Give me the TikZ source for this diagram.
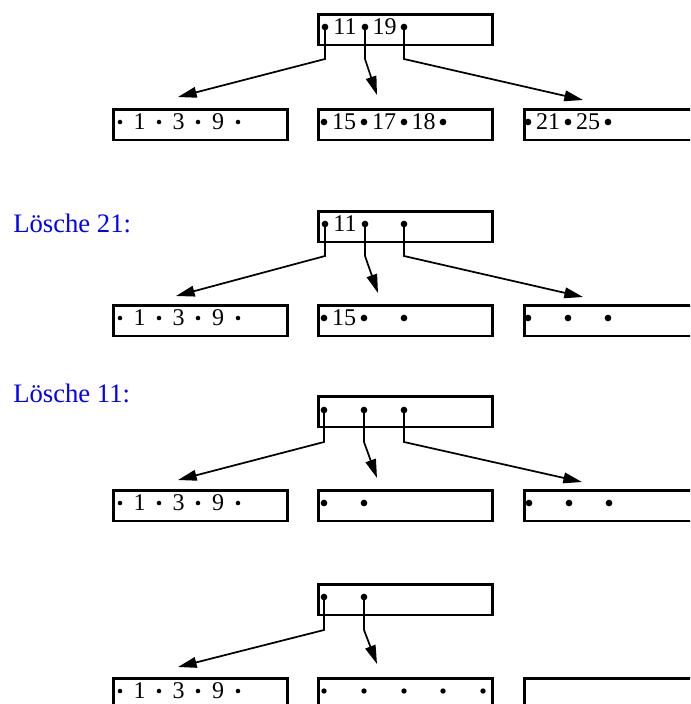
\documentclass[tikz,border=0pt]{standalone}
\usepackage{fontspec}
\setmainfont{Liberation Serif}
\usetikzlibrary{arrows.meta}
\begin{document}
\begin{tikzpicture}[x=0.75pt,y=-0.75pt,
  knoten/.style={draw,line width=2pt,rectangle,inner sep=0pt,
    minimum width=130.5pt,minimum height=22.9pt,anchor=north west},
  schluessel/.style={font=\fontsize{18}{21}\selectfont,inner sep=0pt,anchor=base},
  zeiger/.style={line width=1.3pt,-{Triangle[length=14pt,width=8pt]}},
  punkt/.style={fill,circle,inner sep=0pt,minimum size=5pt},
  mpunkt/.style={fill,circle,inner sep=0pt,minimum size=4pt},
  kpunkt/.style={fill,circle,inner sep=0pt,minimum size=3.4pt},
  titel/.style={font=\fontsize{20}{24}\selectfont,text=blue,anchor=base west,inner sep=0pt}]
\useasboundingbox (0,0) rectangle (690,704);
\clip (0,0) rectangle (690,704);

% ---------- Ausgangsbaum ----------
\node[knoten] (w1) at (317,13) {};
\node[punkt] (w1a) at (325,27) {};
\node[punkt] (w1b) at (365,27) {};
\node[punkt] (w1c) at (404,27) {};
\node[schluessel] (w1k1) at (345,34) {11};
\node[schluessel] (w1k2) at (384.5,34) {19};
\coordinate (w1tl) at (178,97);
\coordinate (w1tm) at (377,95);
\coordinate (w1tr) at (583,100);
\draw[zeiger] (w1a.center) -- ++(0,32) -- (w1tl);
\draw[zeiger] (w1b.center) -- ++(0,32) -- (w1tm);
\draw[zeiger] (w1c.center) -- ++(0,32) -- (w1tr);

\node[knoten] (l1) at (112,108) {};
\node[kpunkt] (l1a) at (120,122) {};
\node[kpunkt] (l1b) at (159,122) {};
\node[kpunkt] (l1c) at (198,122) {};
\node[kpunkt] (l1d) at (238,122) {};
\node[schluessel] (l1k1) at (139.5,129) {1};
\node[schluessel] (l1k2) at (178.5,129) {3};
\node[schluessel] (l1k3) at (218,129) {9};

\node[knoten] (m1) at (317,108) {};
\node[punkt] (m1a) at (324,122) {};
\node[punkt] (m1b) at (364,122) {};
\node[punkt] (m1c) at (404,122) {};
\node[punkt] (m1d) at (443,122) {};
\node[schluessel] (m1k1) at (344,129) {15};
\node[schluessel] (m1k2) at (384,129) {17};
\node[schluessel] (m1k3) at (423.5,129) {18};

\node[knoten] (r1) at (523,108) {};
\node[punkt] (r1a) at (528,122) {};
\node[punkt] (r1b) at (568,122) {};
\node[punkt] (r1c) at (608,122) {};
\node[schluessel] (r1k1) at (548,129) {21};
\node[schluessel] (r1k2) at (588,129) {25};

% ---------- Loesche 21 ----------
\node[titel] (t2) at (13,232) {Lösche 21:};
\node[knoten] (w2) at (317,210) {};
\node[punkt] (w2a) at (325,224) {};
\node[punkt] (w2b) at (365,224) {};
\node[punkt] (w2c) at (404,224) {};
\node[schluessel] (w2k1) at (345,231) {11};
\coordinate (w2tl) at (176,296);
\coordinate (w2tm) at (378,293);
\coordinate (w2tr) at (583,297);
\draw[zeiger] (w2a.center) -- ++(0,32) -- (w2tl);
\draw[zeiger] (w2b.center) -- ++(0,32) -- (w2tm);
\draw[zeiger] (w2c.center) -- ++(0,32) -- (w2tr);

\node[knoten] (l2) at (112,304) {};
\node[kpunkt] (l2a) at (120,318) {};
\node[kpunkt] (l2b) at (159,318) {};
\node[kpunkt] (l2c) at (198,318) {};
\node[kpunkt] (l2d) at (238,318) {};
\node[schluessel] (l2k1) at (139.5,325) {1};
\node[schluessel] (l2k2) at (178.5,325) {3};
\node[schluessel] (l2k3) at (218,325) {9};

\node[knoten] (m2) at (317,304) {};
\node[punkt] (m2a) at (324,318) {};
\node[punkt] (m2b) at (364,318) {};
\node[punkt] (m2c) at (404,318) {};
\node[schluessel] (m2k1) at (344,325) {15};

\node[knoten] (r2) at (523,304) {};
\node[punkt] (r2a) at (528,318) {};
\node[punkt] (r2b) at (568,318) {};
\node[punkt] (r2c) at (608,318) {};

% ---------- Loesche 11 ----------
\node[titel] (t3) at (13,402) {Lösche 11:};
\node[knoten] (w3) at (317,395) {};
\node[punkt] (w3a) at (324,410) {};
\node[punkt] (w3b) at (364,410) {};
\node[punkt] (w3c) at (404,410) {};
\coordinate (w3tl) at (178,480);
\coordinate (w3tm) at (377,478);
\coordinate (w3tr) at (582,482);
\draw[zeiger] (w3a.center) -- ++(0,32) -- (w3tl);
\draw[zeiger] (w3b.center) -- ++(0,32) -- (w3tm);
\draw[zeiger] (w3c.center) -- ++(0,32) -- (w3tr);

\node[knoten] (l3) at (112,489) {};
\node[kpunkt] (l3a) at (120,503) {};
\node[kpunkt] (l3b) at (159,503) {};
\node[kpunkt] (l3c) at (198,503) {};
\node[kpunkt] (l3d) at (238,503) {};
\node[schluessel] (l3k1) at (139.5,510) {1};
\node[schluessel] (l3k2) at (178.5,510) {3};
\node[schluessel] (l3k3) at (218,510) {9};

\node[knoten] (m3) at (317,489) {};
\node[punkt] (m3a) at (324,503) {};
\node[punkt] (m3b) at (364,503) {};

\node[knoten] (r3) at (523,489) {};
\node[punkt] (r3a) at (529,503) {};
\node[punkt] (r3b) at (569,503) {};
\node[punkt] (r3c) at (609,503) {};

% ---------- Ergebnis ----------
\node[knoten] (w4) at (317,583) {};
\node[punkt] (w4a) at (324,597) {};
\node[punkt] (w4b) at (364,597) {};
\coordinate (w4tl) at (178,667);
\coordinate (w4tm) at (377,664);
\draw[zeiger] (w4a.center) -- ++(0,33) -- (w4tl);
\draw[zeiger] (w4b.center) -- ++(0,33) -- (w4tm);

\node[knoten] (l4) at (112,677) {};
\node[kpunkt] (l4a) at (120,691) {};
\node[kpunkt] (l4b) at (159,691) {};
\node[kpunkt] (l4c) at (198,691) {};
\node[kpunkt] (l4d) at (238,691) {};
\node[schluessel] (l4k1) at (139.5,698) {1};
\node[schluessel] (l4k2) at (178.5,698) {3};
\node[schluessel] (l4k3) at (218,698) {9};

\node[knoten] (m4) at (317,677) {};
\node[mpunkt] (m4a) at (324,691) {};
\node[mpunkt] (m4b) at (364,691) {};
\node[mpunkt] (m4c) at (404,691) {};
\node[mpunkt] (m4d) at (443,691) {};
\node[mpunkt] (m4e) at (483,691) {};

\node[knoten] (r4) at (523,677) {};
\end{tikzpicture}
\end{document}
